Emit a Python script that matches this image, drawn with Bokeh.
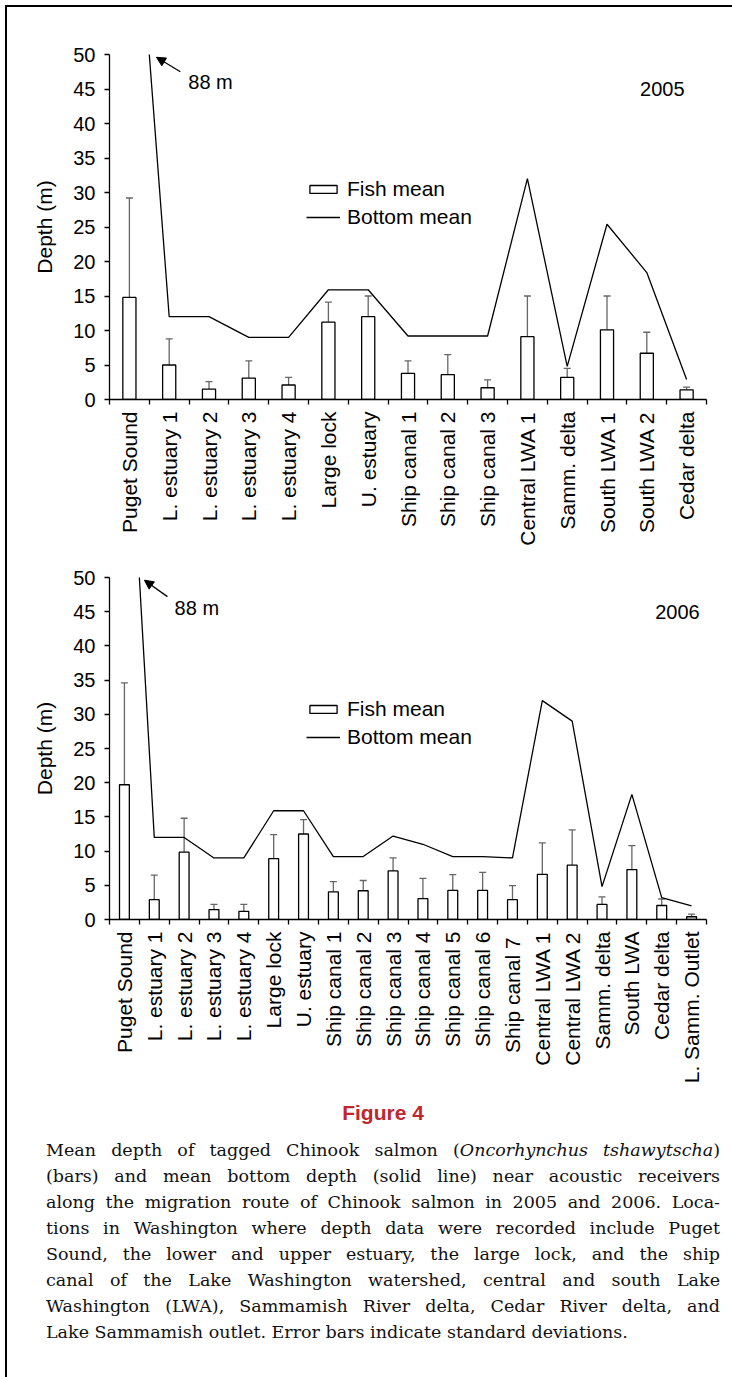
import numpy as np
from bokeh.plotting import figure
from bokeh.models import (Range1d, FixedTicker, Whisker, TeeHead, ColumnDataSource,
                          Legend, LegendItem, Arrow, NormalHead, Label, Div)
from bokeh.layouts import column, row
from bokeh.embed import file_html
from bokeh.resources import INLINE

# ---------------- data ----------------
cats_2005 = ["Puget Sound", "L. estuary 1", "L. estuary 2", "L. estuary 3", "L. estuary 4",
             "Large lock", "U. estuary", "Ship canal 1", "Ship canal 2", "Ship canal 3",
             "Central LWA 1", "Samm. delta", "South LWA 1", "South LWA 2", "Cedar delta"]
fish_2005 = [14.8, 5.0, 1.5, 3.1, 2.1, 11.2, 12.0, 3.8, 3.6, 1.7, 9.1, 3.2, 10.1, 6.7, 1.4]
sd_2005 = [14.4, 3.8, 1.1, 2.5, 1.1, 2.9, 3.0, 1.8, 2.9, 1.15, 5.9, 1.3, 4.9, 3.05, 0.4]
bottom_2005 = [88, 12, 12, 9, 9, 15.9, 15.9, 9.2, 9.2, 9.2, 32.0, 4.8, 25.4, 18.4, 2.9]

cats_2006 = ["Puget Sound", "L. estuary 1", "L. estuary 2", "L. estuary 3", "L. estuary 4",
             "Large lock", "U. estuary", "Ship canal 1", "Ship canal 2", "Ship canal 3",
             "Ship canal 4", "Ship canal 5", "Ship canal 6", "Ship  canal 7", "Central LWA 1",
             "Central LWA 2", "Samm. delta", "South LWA", "Cedar delta", "L. Samm. Outlet"]
fish_2006 = [19.7, 2.9, 9.85, 1.45, 1.2, 8.9, 12.5, 4.05, 4.2, 7.1, 3.05, 4.25, 4.25, 2.9,
             6.6, 7.95, 2.2, 7.3, 2.05, 0.4]
sd_2006 = [14.9, 3.6, 4.95, 0.75, 1.0, 3.5, 2.1, 1.5, 1.5, 1.9, 2.95, 2.3, 2.65, 2.05,
           4.6, 5.15, 1.1, 3.5, 0.95, 0.4]
bottom_2006 = [88, 12, 12, 9, 9, 15.9, 15.9, 9.2, 9.2, 12.2, 11.0, 9.2, 9.2, 9.0,
               32.0, 29.0, 4.8, 18.3, 3.2, 2.0]

y_ticks = [0, 5, 10, 15, 20, 25, 30, 35, 40, 45, 50]
deep_note = "88 m"

FONT = "Liberation Sans"


def make_chart(cats, fish, sd, bottom, year, height, b_top, b_bottom,
               arrow_tail, arrow_head, note_xy, year_xy):
    n = len(cats)
    xs = np.arange(n) + 0.5
    fish = np.array(fish, dtype=float)
    src = ColumnDataSource(dict(x=xs, fish=fish, upper=fish + np.array(sd), bottom=bottom))
    p = figure(width=725, height=height, x_range=Range1d(0, n), y_range=Range1d(0, 50),
               output_backend="svg", toolbar_location=None,
               min_border_left=102, min_border_right=26,
               min_border_top=b_top, min_border_bottom=b_bottom)
    p.outline_line_color = None
    p.grid.visible = False
    p.background_fill_color = "white"

    bars = p.vbar(x="x", top="fish", width=0.33, fill_color="white", line_color="black",
                  line_width=1.3, source=src)
    w = Whisker(base="x", lower="fish", upper="upper", source=src, line_color="#666666",
                line_width=1.3, lower_head=None,
                upper_head=TeeHead(size=7, line_color="#666666", line_width=1.3))
    p.add_layout(w)
    ln = p.line(x="x", y="bottom", source=src, line_color="black", line_width=1.3)

    # x axis: labels at category centres, tick marks at category boundaries
    xa = p.xaxis[0]
    xa.ticker = FixedTicker(ticks=list(xs), minor_ticks=list(range(n + 1)))
    xa.major_label_overrides = {float(x): c for x, c in zip(xs, cats)}
    xa.major_label_orientation = np.pi / 2
    xa.major_tick_out = 0
    xa.major_tick_in = 0
    xa.minor_tick_out = 5
    xa.minor_tick_in = 0
    xa.minor_tick_line_color = "black"
    xa.minor_tick_line_width = 1.3
    xa.axis_line_width = 1.3
    xa.major_label_text_font = FONT
    xa.major_label_text_font_size = "21px"
    xa.major_label_text_color = "black"
    xa.major_label_standoff = 7

    ya = p.yaxis[0]
    ya.ticker = FixedTicker(ticks=y_ticks)
    ya.major_tick_out = 5
    ya.major_tick_in = 0
    ya.major_tick_line_width = 1.3
    ya.axis_line_width = 1.3
    ya.major_label_text_font = FONT
    ya.major_label_text_font_size = "20px"
    ya.major_label_text_color = "black"
    ya.major_label_standoff = 9
    ya.axis_label = "Depth (m)"
    ya.axis_label_text_font = FONT
    ya.axis_label_text_font_style = "normal"
    ya.axis_label_text_font_size = "21px"
    ya.axis_label_text_color = "black"
    ya.axis_label_standoff = 14

    legend = Legend(items=[LegendItem(label="Fish mean", renderers=[bars]),
                           LegendItem(label="Bottom mean", renderers=[ln])],
                    location=(197, 170), glyph_width=34, glyph_height=10,
                    label_height=22, spacing=4, padding=0, margin=0,
                    label_standoff=7, label_text_font=FONT, label_text_font_size="21px",
                    label_text_color="black",
                    background_fill_alpha=0, border_line_alpha=0)
    p.add_layout(legend)

    p.add_layout(Arrow(end=NormalHead(size=9, fill_color="black", line_color="black",
                                      line_width=1),
                       x_start=arrow_tail[0], y_start=arrow_tail[1],
                       x_end=arrow_head[0], y_end=arrow_head[1],
                       line_color="black", line_width=1.3))
    p.add_layout(Label(x=note_xy[0], y=note_xy[1], text=deep_note, text_font=FONT,
                       text_font_size="20px", text_baseline="middle", text_color="black"))
    p.add_layout(Label(x=year_xy[0], y=year_xy[1], text=year, text_font=FONT,
                       text_font_size="20px", text_baseline="middle", text_align="right",
                       text_color="black"))
    return p


p1 = make_chart(cats_2005, fish_2005, sd_2005, bottom_2005, "2005", 553, 47, 161,
                (1.78, 47.5), (1.18, 49.6), (1.98, 46.0), (14.45, 45.0))
p2 = make_chart(cats_2006, fish_2006, sd_2006, bottom_2006, "2006", 529, 17, 170,
                (1.94, 47.2), (1.17, 49.6), (2.18, 45.5), (19.77, 45.0))

lines = [
    "Mean depth of tagged Chinook salmon (<i>Oncorhynchus tshawytscha</i>)",
    "(bars) and mean bottom depth (solid line) near acoustic receivers",
    "along the migration route of Chinook salmon in 2005 and 2006. Loca-",
    "tions in Washington where depth data were recorded include Puget",
    "Sound, the lower and upper estuary, the large lock, and the ship",
    "canal of the Lake Washington watershed, central and south Lake",
    "Washington (LWA), Sammamish River delta, Cedar River delta, and",
    "Lake Sammamish outlet. Error bars indicate standard deviations.",
]
body = ""
for i, t in enumerate(lines):
    last = "left" if i == len(lines) - 1 else "justify"
    body += ('<div style="white-space:nowrap;text-align:justify;text-align-last:%s;">%s</div>'
             % (last, t))
cap_html = (
    '<div style="width:674px;margin-left:39px;font-family:\'DejaVu Serif\';font-size:17.5px;'
    'line-height:26px;color:#111;">'
    '<div style="text-align:center;font-family:\'Liberation Sans Narrow\',\'Liberation Sans\';'
    'font-weight:bold;color:#c0272d;font-size:21px;line-height:24px;margin-top:12px;'
    'margin-bottom:12px;">Figure 4</div>' + body + '</div>'
)
cap = Div(text=cap_html, width=725, height=288, margin=0)

top_line = Div(text="", width=727, height=2, margin=0, styles={"background-color": "black"})
left_line = Div(text="", width=2, height=1370, margin=0, styles={"background-color": "black"})
content = column(p1, p2, cap, margin=0, spacing=0)
layout = column(top_line, row(left_line, content, margin=0, spacing=0),
                margin=(5, 0, 0, 5), spacing=0)

open("out.html", "w").write(file_html(layout, INLINE))
